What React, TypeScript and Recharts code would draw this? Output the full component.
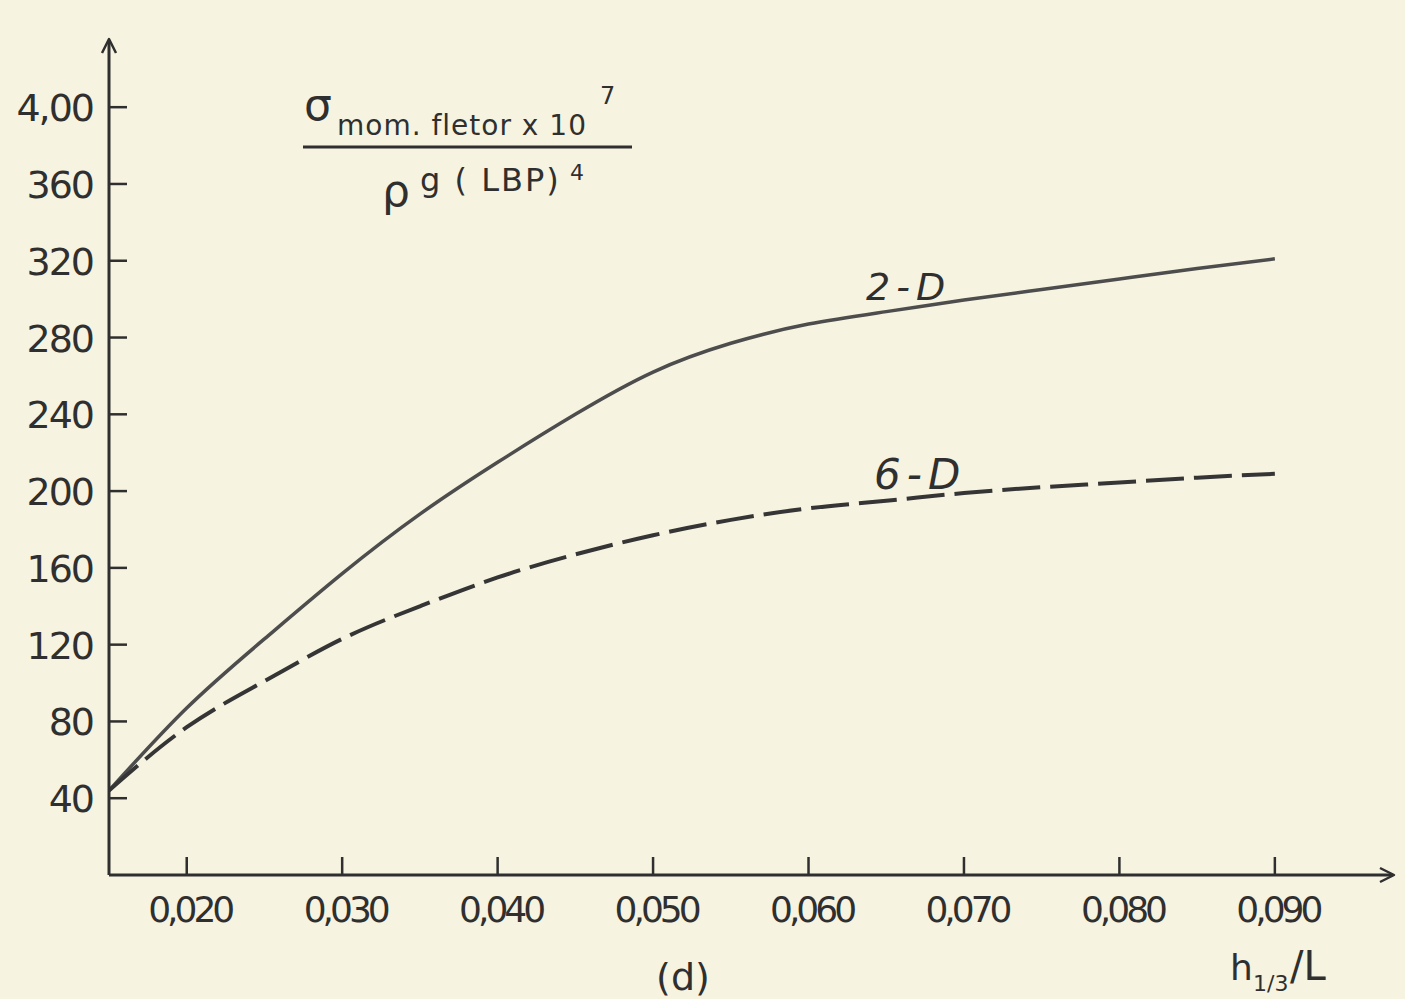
import React from 'react';
import { LineChart, Line, XAxis, YAxis } from 'recharts';

// h1/3 / L
const xValues = [0.015, 0.02, 0.025, 0.03, 0.035, 0.04, 0.045, 0.05, 0.055, 0.06, 0.065, 0.07, 0.075, 0.08, 0.085, 0.09];
// 2-D (solid)
const series2D = [44, 87, 123, 157, 188, 215, 240, 262, 277, 287, 293.5, 299.5, 305, 310.5, 316, 321];
// 6-D (dashed)
const series6D = [44, 77, 101, 123, 140, 155, 167, 177, 185, 191, 195, 199, 202, 204.5, 207, 209];

const xTicks = [0.02, 0.03, 0.04, 0.05, 0.06, 0.07, 0.08, 0.09];
const xTickLabels = ['0,020', '0,030', '0,040', '0,050', '0,060', '0,070', '0,080', '0,090'];
const yTicks = [40, 80, 120, 160, 200, 240, 280, 320, 360, 400];
const yTickLabels = ['40', '80', '120', '160', '200', '240', '280', '320', '360', '4,00'];

const data = xValues.map((x, i) => ({ x, d2: series2D[i], d6: series6D[i] }));

const INK = '#2f2f2f';
const FONT = 'DejaVu Sans';

const XTick = (props: any) => {
  const { x, y, payload } = props;
  const i = xTicks.findIndex((t) => Math.abs(t - payload.value) < 1e-9);
  return (
    <g>
      <line x1={x} y1={y - 1} x2={x} y2={y - 18} stroke={INK} strokeWidth={2.5} />
      <text x={x + 3} y={y + 47} textAnchor="middle" fontFamily={FONT} fontSize={36} letterSpacing={-4} fill={INK}>
        {i >= 0 ? xTickLabels[i] : ''}
      </text>
    </g>
  );
};

const YTick = (props: any) => {
  const { x, y, payload } = props;
  const i = yTicks.findIndex((t) => Math.abs(t - payload.value) < 1e-9);
  return (
    <g>
      <line x1={x + 1} y1={y} x2={x + 18} y2={y} stroke={INK} strokeWidth={2.5} />
      <text x={x - 16} y={y + 14} textAnchor="end" fontFamily={FONT} fontSize={38} letterSpacing={-2} fill={INK}>
        {i >= 0 ? yTickLabels[i] : ''}
      </text>
    </g>
  );
};

export default function App() {
  return (
    <div style={{ position: 'absolute', left: 0, top: 0, width: 1405, height: 999, background: '#f7f3e1', overflow: 'hidden' }}>
      <svg width={0} height={0} style={{ position: 'absolute' }}>
        <defs>
          <marker id="arrowHead" markerUnits="userSpaceOnUse" markerWidth={24} markerHeight={24} refX={16} refY={12} orient="auto-start-reverse">
            <path d="M3,5 L17,12 L3,19" fill="none" stroke={INK} strokeWidth={2.5} strokeLinejoin="round" />
          </marker>
        </defs>
      </svg>
      <LineChart width={1405} height={999} data={data} margin={{ top: 40, right: 12, bottom: 0, left: 0 }}>
        <XAxis
          dataKey="x"
          type="number"
          domain={[0.015, 0.0976]}
          ticks={xTicks}
          height={124}
          tickSize={0}
          tickMargin={0}
          tickLine={false}
          tick={<XTick />}
          axisLine={{ stroke: INK, strokeWidth: 3, markerEnd: 'url(#arrowHead)' }}
          allowDataOverflow
        />
        <YAxis
          type="number"
          domain={[0, 435]}
          ticks={yTicks}
          width={109}
          tickSize={0}
          tickMargin={0}
          tickLine={false}
          tick={<YTick />}
          axisLine={{ stroke: INK, strokeWidth: 3, markerStart: 'url(#arrowHead)' }}
          allowDataOverflow
        />
        <Line type="natural" dataKey="d2" stroke="#4d4d4d" strokeWidth={3.5} dot={false} activeDot={false} isAnimationActive={false} />
        <Line type="natural" dataKey="d6" stroke="#353535" strokeWidth={4} strokeDasharray="38 10" dot={false} activeDot={false} isAnimationActive={false} />
      </LineChart>
      <svg width={1405} height={999} style={{ position: 'absolute', left: 0, top: 0, pointerEvents: 'none' }}>
        <g fontFamily={FONT} fill={INK}>
          <text x={304} y={120} fontSize={44}>σ</text>
          <text x={337} y={135} fontSize={28} letterSpacing={1}>mom. fletor x 10</text>
          <text x={600} y={104} fontSize={24}>7</text>
          <line x1={303} y1={147} x2={632} y2={147} stroke={INK} strokeWidth={3} />
          <text x={382} y={206} fontSize={44}>ρ</text>
          <text x={420} y={191} fontSize={32} letterSpacing={2}>g ( LBP)</text>
          <text x={570} y={180} fontSize={22}>4</text>

          <text x={866} y={300} fontSize={38} fontStyle="italic" letterSpacing={6}>2-D</text>
          <text x={874} y={489} fontSize={42} fontStyle="italic" letterSpacing={6}>6-D</text>

          <text x={683} y={990} fontSize={38} textAnchor="middle">(d)</text>
          <text x={1230} y={980} fontSize={36}>h</text>
          <text x={1253} y={991} fontSize={22}>1/3</text>
          <text x={1290} y={980} fontSize={40}>/L</text>
        </g>
      </svg>
    </div>
  );
}
